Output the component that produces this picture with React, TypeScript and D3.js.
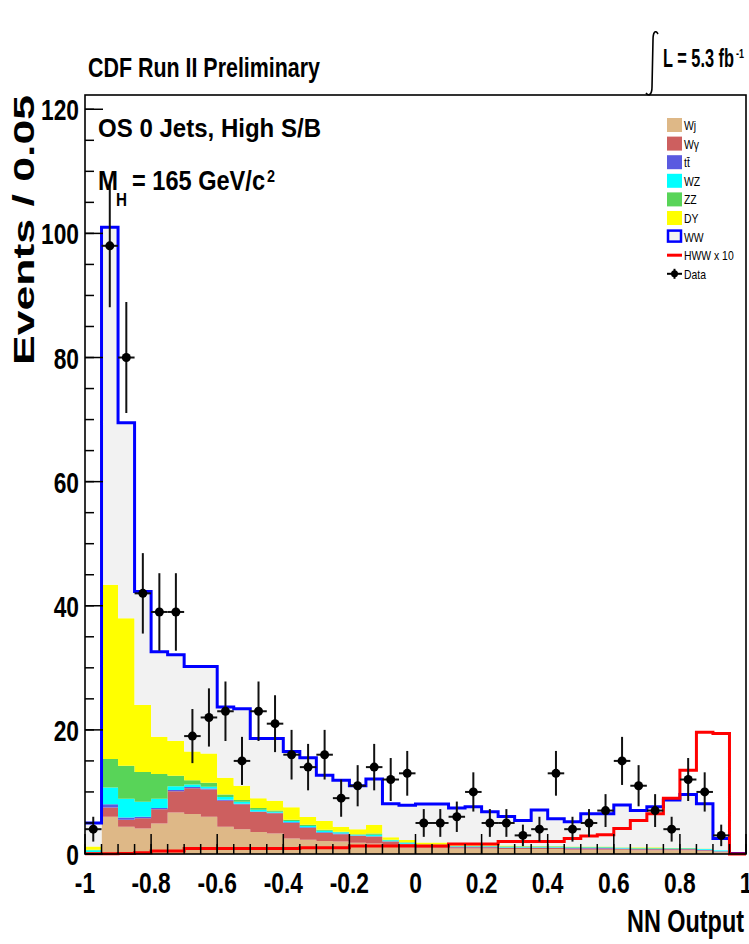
import React from 'react';
import * as d3 from 'd3';

const W = 749, H = 944;
const X0 = 85, X1 = 746, Y0 = 854, Y1 = 95;
const xDomain: [number, number] = [-1, 1];
const yMax = 122.3;
const nBins = 40;

// stacked backgrounds (events / bin), bins of width 0.05 from -1 to 1
const Wj = [0.2, 6.0, 4.4, 4.1, 4.9, 6.7, 6.45, 6.0, 4.4, 4.0, 3.55, 3.3, 2.5, 2.3, 2.1, 2.0, 1.8, 1.7, 1.3, 1.1, 1.0, 1.0, 0.9, 0.9, 0.9, 0.8, 0.8, 0.8, 0.8, 0.7, 0.7, 0.7, 0.7, 0.6, 0.6, 0.6, 0.6, 0.5, 0.3, 0.05];
const Wg = [0.1, 1.5, 1.1, 1.65, 2.3, 3.4, 4.15, 4.4, 4.2, 4.0, 3.2, 3.25, 2.5, 1.9, 1.3, 1.2, 1.15, 1.1, 0.7, 0.5, 0.3, 0.3, 0.2, 0.2, 0.2, 0.2, 0.2, 0.2, 0.2, 0.2, 0.2, 0.2, 0.15, 0.15, 0.15, 0.15, 0.15, 0.1, 0.1, 0.02];
const Ttbar = [0, 0.5, 0.4, 0.25, 0.2, 0.2, 0.2, 0.15, 0.15, 0.1, 0.1, 0.1, 0.1, 0.1, 0.1, 0.1, 0.05, 0.05, 0.05, 0.05, 0.05, 0.05, 0.05, 0.05, 0.05, 0.05, 0.05, 0.05, 0.05, 0.05, 0.05, 0.05, 0.05, 0.05, 0.05, 0.05, 0.05, 0.1, 0.05, 0];
const WZ = [0.3, 2.7, 3.0, 2.4, 1.5, 0.6, 0.4, 0.3, 0.45, 0.3, 0.3, 0.15, 0.2, 0.2, 0.25, 0.2, 0.1, 0.25, 0.15, 0.15, 0.1, 0.1, 0.1, 0.1, 0.1, 0.1, 0.1, 0.1, 0.1, 0.1, 0.1, 0.1, 0.1, 0.1, 0.1, 0.1, 0.1, 0.1, 0.15, 0.02];
const ZZ = [0.1, 4.6, 5.3, 4.8, 4.0, 1.7, 0.7, 0.65, 0.4, 0.3, 0.25, 0.2, 0.2, 0.2, 0.15, 0.1, 0.1, 0.2, 0.1, 0.1, 0.1, 0.1, 0.05, 0.05, 0.05, 0.1, 0.1, 0.1, 0.1, 0.1, 0.1, 0.1, 0.05, 0.1, 0.1, 0.05, 0.05, 0.05, 0, 0];
const DY = [0.5, 28.1, 23.8, 10.8, 6.0, 5.6, 4.6, 4.7, 2.7, 2.3, 1.6, 1.6, 2.05, 1.25, 1.4, 0.8, 0.8, 1.4, 0.4, 0.35, 0.3, 0.3, 0.1, 0.1, 0.1, 0.1, 0.05, 0.05, 0.05, 0.05, 0.05, 0.05, 0.05, 0.1, 0.1, 0.05, 0.05, 0.05, 0, 0];
const WW = [3.8, 57.6, 31.5, 18.3, 13.7, 13.9, 13.7, 14.0, 11.4, 12.4, 9.6, 10.0, 8.95, 9.55, 7.4, 7.5, 7.0, 7.4, 5.4, 5.6, 6.2, 6.2, 6.0, 6.2, 5.4, 4.7, 4.1, 5.8, 4.4, 4.0, 5.3, 5.3, 6.8, 5.9, 6.5, 7.7, 8.6, 7.2, 1.9, 0];
// signal x10
const HWW10 = [0.05, 0.05, 0.1, 0.2, 0.5, 0.5, 0.9, 0.9, 0.9, 0.9, 0.9, 0.9, 0.9, 1.0, 1.0, 1.0, 1.3, 1.3, 1.3, 1.3, 1.3, 1.3, 1.6, 1.6, 1.6, 2.0, 2.0, 2.0, 2.0, 2.5, 2.9, 3.1, 4.1, 5.4, 6.5, 9.0, 13.5, 19.6, 19.4, 0];
// observed data
const Data = [4, 98, 80, 42, 39, 39, 19, 22, 23, 15, 23, 21, 16, 14, 16, 9, 11, 14, 12, 13, 5, 5, 6, 10, 5, 5, 3, 4, 13, 4, 5, 7, 15, 11, 7, 4, 12, 10, 3, 0];

const keys = ['Wj', 'Wg', 'tt', 'WZ', 'ZZ', 'DY', 'WW'];
const colors: Record<string, string> = {
  Wj: '#deb887', Wg: '#cd5f5f', tt: '#5a5ae0', WZ: '#00ffff', ZZ: '#58d458', DY: '#ffff00', WW: '#f2f2f2',
};
const legendLabels = ['Wj', 'W\u03b3', 'tt\u0304', 'WZ', 'ZZ', 'DY', 'WW', 'HWW x 10', 'Data'];
const xMajorTicks = [-1, -0.8, -0.6, -0.4, -0.2, 0, 0.2, 0.4, 0.6, 0.8, 1];
const xTickLabels = ['-1', '-0.8', '-0.6', '-0.4', '-0.2', '0', '0.2', '0.4', '0.6', '0.8', '1'];
const yMajorTicks = [0, 20, 40, 60, 80, 100, 120];

const FONT = 'Liberation Sans, Arial, Helvetica, sans-serif';

const x = d3.scaleLinear().domain(xDomain).range([X0, X1]);
const y = d3.scaleLinear().domain([0, yMax]).range([Y0, Y1]);
const edges = d3.range(nBins + 1).map(i => xDomain[0] + i * (xDomain[1] - xDomain[0]) / nBins);

function stepPoints(vals: number[]) {
  return vals.flatMap((v, i) => [[edges[i], v], [edges[i + 1], v]] as [number, number][]);
}

const T = (p: any) => (
  <text x={p.x} y={p.y} fontSize={p.size} fontFamily={FONT} fontWeight={p.weight || 'bold'}
    textLength={p.len} lengthAdjust="spacingAndGlyphs" fill="#000">{p.children}</text>
);

export default function App() {
  const rows = d3.range(nBins).map(i => ({ Wj: Wj[i], Wg: Wg[i], tt: Ttbar[i], WZ: WZ[i], ZZ: ZZ[i], DY: DY[i], WW: WW[i] }));
  const series = d3.stack<any>().keys(keys)(rows);
  const area = d3.area<any>().x(p => x(p.x)).y0(p => y(p.y0)).y1(p => y(p.y1));
  const line = d3.line<[number, number]>().x(p => x(p[0])).y(p => y(p[1]));
  const total = series[series.length - 1].map(d => d[1]);

  const xMinor = d3.range(nBins + 1).map(i => edges[i]);
  const yMinor = d3.range(0, 121, 5);
  const SX = 0.76;

  const legendY = (k: number) => 125 + 18.6 * k;

  return (
    <svg width={W} height={H} style={{ position: 'absolute', left: 0, top: 0, background: '#fff' }}>
      <rect x={0} y={0} width={W} height={H} fill="#fff" />
      <defs>
        <clipPath id="frame"><rect x={X0} y={Y1} width={X1 - X0} height={Y0 - Y1 + 2} /></clipPath>
      </defs>
      <g clipPath="url(#frame)">
        {series.map(s => {
          const pts = s.flatMap((d: any, i: number) => [
            { x: edges[i], y0: d[0], y1: d[1] }, { x: edges[i + 1], y0: d[0], y1: d[1] }]);
          return <path key={s.key} d={area(pts) || ''} fill={colors[s.key]} stroke="none" />;
        })}
        <path d={line(stepPoints(total)) || ''} fill="none" stroke="#0000ff" strokeWidth={3} />
        <path d={line(stepPoints(HWW10)) || ''} fill="none" stroke="#ff0000" strokeWidth={3} />
      </g>
      {/* data */}
      <g stroke="#111" strokeWidth={2}>
        {Data.map((n, i) => {
          if (n <= 0) return null;
          const cx = x((edges[i] + edges[i + 1]) / 2);
          const e = Math.sqrt(n);
          return (
            <g key={i}>
              <line x1={cx} x2={cx} y1={y(n - e)} y2={y(n + e)} />
              <line x1={x(edges[i])} x2={x(edges[i + 1])} y1={y(n)} y2={y(n)} />
              <circle cx={cx} cy={y(n)} r={4.5} fill="#000" stroke="none" />
            </g>
          );
        })}
      </g>
      {/* frame */}
      <rect x={X0} y={Y1} width={X1 - X0} height={Y0 - Y1} fill="none" stroke="#000" strokeWidth={1.6} />
      {/* ticks */}
      <g stroke="#000" strokeWidth={1.5}>
        {xMinor.map((v, i) => <line key={'xm' + i} x1={x(v)} x2={x(v)} y1={Y0} y2={Y0 - 10} />)}
        {xMajorTicks.map((v, i) => <line key={'xM' + i} x1={x(v)} x2={x(v)} y1={Y0} y2={Y0 - 20} />)}
        {yMinor.map((v, i) => <line key={'ym' + i} x1={X0} x2={X0 + 9} y1={y(v)} y2={y(v)} />)}
        {yMajorTicks.map((v, i) => <line key={'yM' + i} x1={X0} x2={X0 + 18} y1={y(v)} y2={y(v)} />)}
      </g>
      {xMajorTicks.map((v, i) => (
        <text key={'xl' + i} transform={`translate(${x(v)},893) scale(${SX},1)`} textAnchor="middle"
          fontSize={30} fontWeight="bold" fontFamily={FONT}>{xTickLabels[i]}</text>
      ))}
      {yMajorTicks.map((v, i) => (
        <text key={'yl' + i} transform={`translate(79,${y(v) + 11}) scale(${SX},1)`} textAnchor="end"
          fontSize={30} fontWeight="bold" fontFamily={FONT}>{v}</text>
      ))}
      {/* titles */}
      <T x={88} y={77} size={28} len={232}>CDF Run II Preliminary</T>
      <path d="M 658 34 C 655 29, 653 33, 653 40 L 652 87 C 652 94, 649 97, 646 93" fill="none" stroke="#000" strokeWidth={1.6} />
      <T x={663} y={67} size={25} len={71}>L = 5.3 fb</T>
      <T x={736} y={58} size={12} len={8}>-1</T>
      <text transform="translate(34,365) rotate(-90)" fontSize={29} fontWeight="bold" fontFamily={FONT}
        textLength={270} lengthAdjust="spacingAndGlyphs">Events / 0.05</text>
      <T x={98} y={137} size={26} len={223}>OS 0 Jets, High S/B</T>
      <T x={98} y={190} size={27} len={20}>M</T>
      <T x={116} y={206} size={18} len={11}>H</T>
      <T x={132} y={190} size={27} len={133}>= 165 GeV/c</T>
      <T x={267} y={182} size={16} len={8}>2</T>
      <T x={627} y={932} size={32} len={117}>NN Output</T>
      {/* legend */}
      {keys.map((k, i) => (
        k === 'WW'
          ? <rect key={k} x={668} y={legendY(i) - 6} width={13} height={11} fill={colors.WW} stroke="#0000ff" strokeWidth={2.5} />
          : <rect key={k} x={667} y={legendY(i) - 7} width={15} height={14} fill={colors[k]} />
      ))}
      <line x1={667} x2={682} y1={legendY(7)} y2={legendY(7)} stroke="#ff0000" strokeWidth={3} />
      <g stroke="#000" strokeWidth={2}>
        <line x1={667} x2={682} y1={legendY(8)} y2={legendY(8)} />
        <line x1={674.5} x2={674.5} y1={legendY(8) - 5} y2={legendY(8) + 5} />
        <circle cx={674.5} cy={legendY(8)} r={3.5} fill="#000" stroke="none" />
      </g>
      {legendLabels.map((l, i) => (
        <text key={l} transform={`translate(684,${legendY(i) + 5}) scale(0.8,1)`} fontSize={13} fontFamily={FONT}>{l}</text>
      ))}
    </svg>
  );
}
